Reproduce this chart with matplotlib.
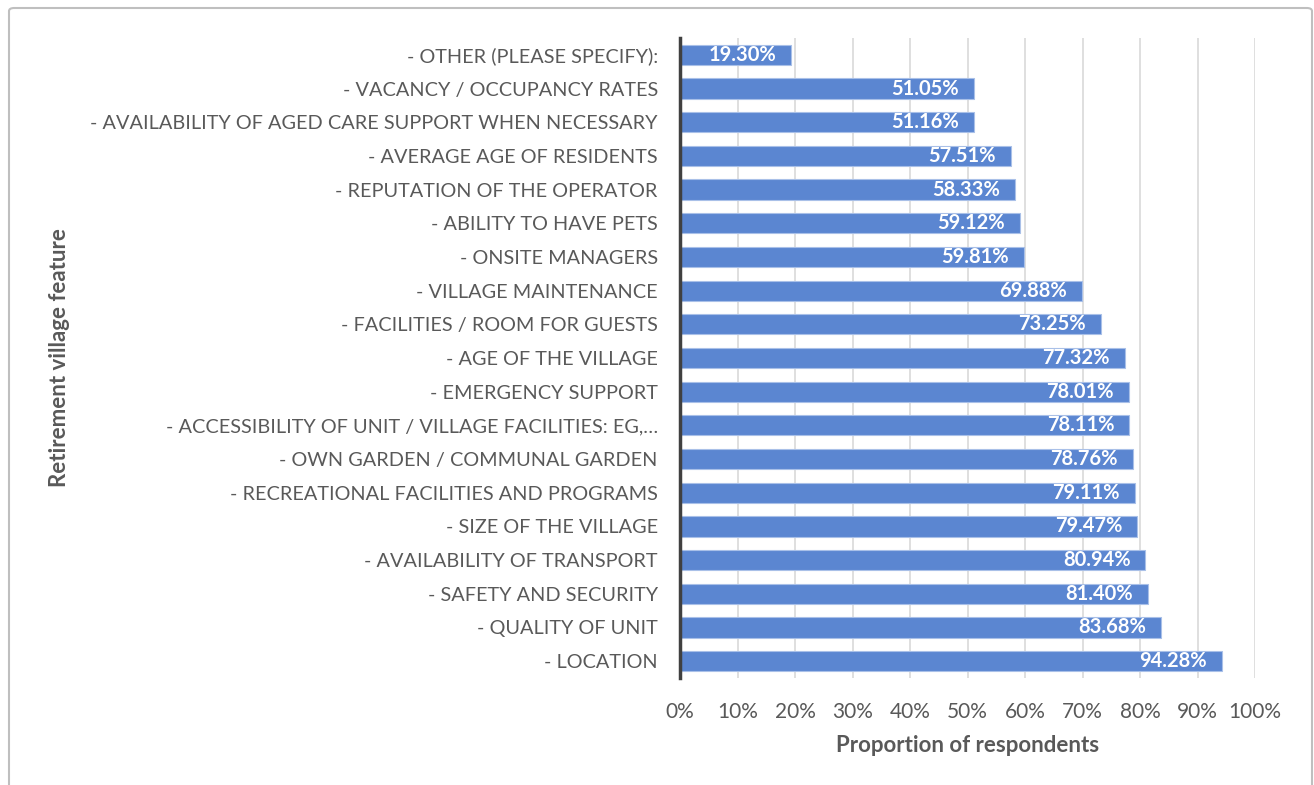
import matplotlib
matplotlib.use('agg')
import matplotlib.pyplot as plt
from matplotlib.patches import FancyBboxPatch

features = ['- OTHER (PLEASE SPECIFY):',
            '- VACANCY / OCCUPANCY RATES',
            '- AVAILABILITY OF AGED CARE SUPPORT WHEN NECESSARY',
            '- AVERAGE AGE OF RESIDENTS',
            '- REPUTATION OF THE OPERATOR',
            '- ABILITY TO HAVE PETS',
            '- ONSITE MANAGERS',
            '- VILLAGE MAINTENANCE',
            '- FACILITIES / ROOM FOR GUESTS',
            '- AGE OF THE VILLAGE',
            '- EMERGENCY SUPPORT',
            '- ACCESSIBILITY OF UNIT / VILLAGE FACILITIES: EG,\u2026',
            '- OWN GARDEN / COMMUNAL GARDEN',
            '- RECREATIONAL FACILITIES AND PROGRAMS',
            '- SIZE OF THE VILLAGE',
            '- AVAILABILITY OF TRANSPORT',
            '- SAFETY AND SECURITY',
            '- QUALITY OF UNIT',
            '- LOCATION']
proportions = [19.30, 51.05, 51.16, 57.51, 58.33, 59.12, 59.81, 69.88, 73.25,
               77.32, 78.01, 78.11, 78.76, 79.11, 79.47, 80.94, 81.40, 83.68, 94.28]
x_ticks = [0, 10, 20, 30, 40, 50, 60, 70, 80, 90, 100]

plt.rcParams['font.family'] = ['Lato', 'DejaVu Sans']
text_grey = '#595959'

fig = plt.figure(figsize=(13.14, 7.85), dpi=100, facecolor='white')
border = FancyBboxPatch((9 / 1314, -0.05), 1303 / 1314, 1.05 - 8 / 785,
                        boxstyle='round,pad=0,rounding_size=0.004',
                        transform=fig.transFigure, facecolor='none',
                        edgecolor='#BFBFBF', linewidth=1.5, zorder=-1)
fig.patches.append(border)

ax = fig.add_axes([680 / 1314, 1 - 678 / 785, 575 / 1314, 640 / 785])
ax.set_facecolor('none')

positions = list(range(len(features)))[::-1]
bars = ax.barh(positions, proportions, height=0.6, color='#5B86D1',
               edgecolor='#A9C0E8', linewidth=0.8, zorder=3)

for pos, value in zip(positions, proportions):
    ax.text(value - 2.6, pos, f'{value:.2f}%', ha='right', va='center',
            color='white', fontsize=14.5, fontweight='bold', zorder=4)

ax.set_xlim(0, 100)
ax.set_ylim(-0.5, len(features) - 0.5)
ax.set_xticks(x_ticks)
ax.set_xticklabels([f'{t}%' for t in x_ticks], fontsize=15, color=text_grey)
ax.set_yticks(positions)
ax.set_yticklabels(features, fontsize=14.3, color=text_grey)
ax.tick_params(axis='y', length=0, pad=16)
ax.tick_params(axis='x', length=0, pad=17)
ax.grid(axis='x', color='#D9D9D9', linewidth=1.2, zorder=0)

for side in ['top', 'right', 'bottom']:
    ax.spines[side].set_visible(False)
ax.spines['left'].set_color('#404040')
ax.spines['left'].set_linewidth(2.5)
ax.spines['left'].set_zorder(5)

ax.set_xlabel('Proportion of respondents', fontsize=16, fontweight='bold',
              color=text_grey, labelpad=10)
fig.text(60 / 1314, 1 - 358 / 785, 'Retirement village feature', rotation=90,
         ha='center', va='center', fontsize=16, fontweight='bold', color=text_grey)

fig.savefig('out.png', dpi=100, facecolor='white')
